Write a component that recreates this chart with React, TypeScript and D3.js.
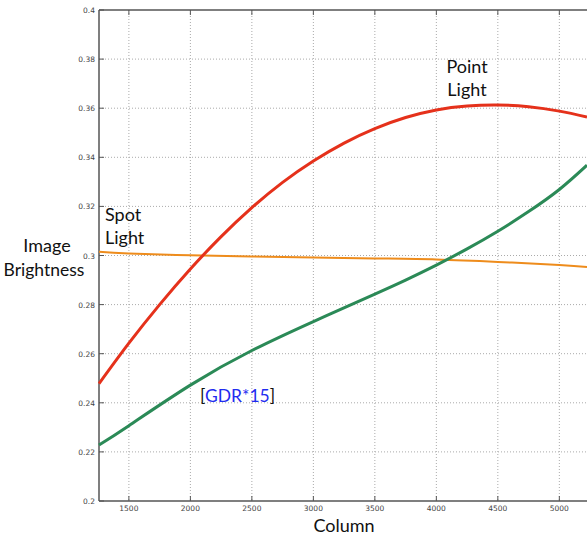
import React from 'react';
import * as d3 from 'd3';

// curve values (column -> brightness)
const redColumns = [1257, 1500, 1750, 2000, 2250, 2500, 2750, 3000, 3250, 3500, 3750, 4000, 4250, 4500, 4750, 5000, 5225];
const pointLight = [0.2478, 0.2643, 0.28, 0.2945, 0.3077, 0.3195, 0.3298, 0.3385, 0.3458, 0.3517, 0.3562, 0.3593, 0.3609, 0.3613, 0.3606, 0.3588, 0.3564];

const greenColumns = [1257, 1500, 2000, 2500, 3000, 3500, 3750, 4000, 4250, 4500, 4750, 5000, 5225];
const gdr15 = [0.2228, 0.2307, 0.2472, 0.2613, 0.2731, 0.2843, 0.29, 0.2961, 0.3027, 0.3099, 0.3179, 0.3269, 0.3368];

const orangeColumns = [1257, 1500, 2000, 2500, 3000, 3500, 4000, 4500, 5000, 5225];
const spotLight = [0.3015, 0.3008, 0.3001, 0.2996, 0.2992, 0.2988, 0.2984, 0.2974, 0.2961, 0.2953];

const xTicks = [1500, 2000, 2500, 3000, 3500, 4000, 4500, 5000];
const yTicks = [0.2, 0.22, 0.24, 0.26, 0.28, 0.3, 0.32, 0.34, 0.36, 0.38, 0.4];
const yTickLabels = ['0.2', '0.22', '0.24', '0.26', '0.28', '0.3', '0.32', '0.34', '0.36', '0.38', '0.4'];

const W = 587;
const H = 538;
const left = 99;
const top = 10;
const bottom = 501;
const FONT = 'Lato, "Open Sans", sans-serif';

export default function App() {
  const x = d3.scaleLinear().domain([1257, 5225]).range([left, W]);
  const y = d3.scaleLinear().domain([0.2, 0.4]).range([bottom, top]);

  const line = d3
    .line<[number, number]>()
    .x(d => x(d[0]))
    .y(d => y(d[1]))
    .curve(d3.curveNatural);

  const series = [
    { cols: orangeColumns, values: spotLight, color: '#ee8c1c', width: 2 },
    { cols: greenColumns, values: gdr15, color: '#2b8a57', width: 3 },
    { cols: redColumns, values: pointLight, color: '#e5311b', width: 3 },
  ];

  return (
    <svg width={W} height={H} style={{ position: 'absolute', left: 0, top: 0, background: '#fff' }}>
      {/* grid */}
      {xTicks.map(t => (
        <line key={'gx' + t} x1={x(t)} x2={x(t)} y1={top} y2={bottom}
          stroke="#aaa" strokeWidth={1} strokeDasharray="1,2" />
      ))}
      {yTicks.slice(1, -1).map(t => (
        <line key={'gy' + t} x1={left} x2={W} y1={y(t)} y2={y(t)}
          stroke="#aaa" strokeWidth={1} strokeDasharray="1,2" />
      ))}

      {/* frame */}
      <line x1={left} x2={left} y1={top} y2={bottom} stroke="#555" strokeWidth={1.5} />
      <line x1={left} x2={W} y1={bottom} y2={bottom} stroke="#555" strokeWidth={1.5} />
      <line x1={left} x2={W} y1={top} y2={top} stroke="#555" strokeWidth={1.5} />

      {/* ticks */}
      {xTicks.map(t => (
        <g key={'tx' + t}>
          <line x1={x(t)} x2={x(t)} y1={bottom} y2={bottom - 5} stroke="#555" />
          <line x1={x(t)} x2={x(t)} y1={top} y2={top + 5} stroke="#555" />
          <text x={x(t)} y={511} textAnchor="middle" fontSize={7.5} fill="#444"
            fontFamily="DejaVu Sans">{t}</text>
        </g>
      ))}
      {yTicks.map((t, i) => (
        <g key={'ty' + t}>
          <line x1={left} x2={left + 5} y1={y(t)} y2={y(t)} stroke="#555" />
          <text x={95} y={y(t) + 3} textAnchor="end" fontSize={7.5} fill="#444"
            fontFamily="DejaVu Sans">{yTickLabels[i]}</text>
        </g>
      ))}

      {/* curves */}
      <g>
        {series.map((s, i) => (
          <path key={i} d={line(s.cols.map((c, j) => [c, s.values[j]] as [number, number])) || ''}
            fill="none" stroke={s.color} strokeWidth={s.width} />
        ))}
      </g>

      {/* labels */}
      <g fontFamily={FONT} fontSize={18} fill="#111">
        <text x={47} y={252} textAnchor="middle">Image</text>
        <text x={44} y={276} textAnchor="middle" fontSize={17.5}>Brightness</text>
        <text x={105} y={221}>Spot</text>
        <text x={105} y={244}>Light</text>
        <text x={467} y={73} textAnchor="middle">Point</text>
        <text x={467} y={96} textAnchor="middle">Light</text>
        <text x={200} y={402} fontSize={17.5}>
          [<tspan fill="#1f2cf0">GDR*15</tspan>]
        </text>
        <text x={344} y={532} textAnchor="middle">Column</text>
      </g>
    </svg>
  );
}
